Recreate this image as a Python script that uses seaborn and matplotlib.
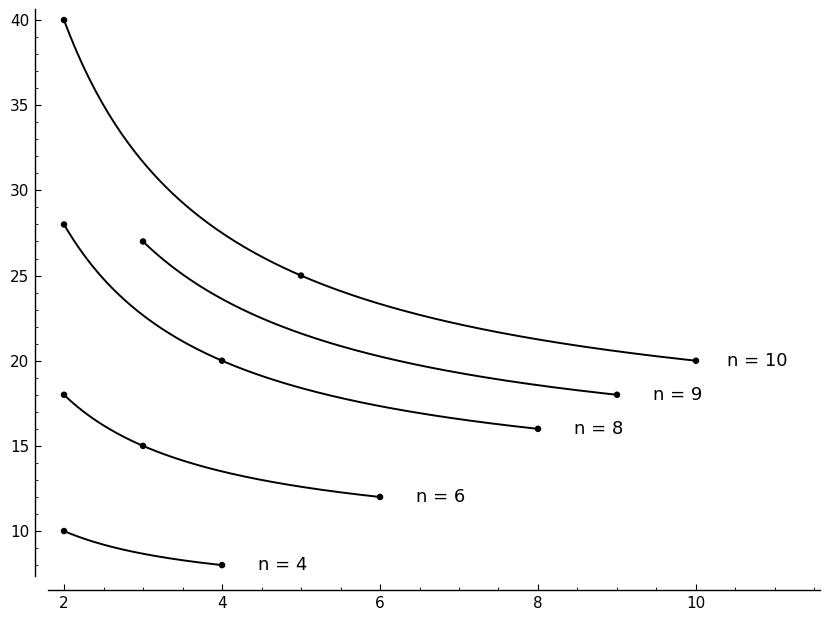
import numpy as np
import pandas as pd
import matplotlib
matplotlib.use("Agg")
import matplotlib.pyplot as plt
import seaborn as sns
from matplotlib.ticker import MultipleLocator

# ---- data ----
n_values = [4, 6, 8, 9, 10]
x_n4 = [2, 4];        y_n4 = [10, 8]
x_n6 = [2, 3, 6];     y_n6 = [18, 15, 12]
x_n8 = [2, 4, 8];     y_n8 = [28, 20, 16]
x_n9 = [3, 9];        y_n9 = [27, 18]
x_n10 = [2, 5, 10];   y_n10 = [40, 25, 20]
labels = ["n = 4", "n = 6", "n = 8", "n = 9", "n = 10"]

series_x = [x_n4, x_n6, x_n8, x_n9, x_n10]
series_y = [y_n4, y_n6, y_n8, y_n9, y_n10]

sns.set_style("white")
plt.rcParams['font.family'] = ['DejaVu Sans']
plt.rcParams['text.color'] = 'black'

fig = plt.figure(figsize=(8.3, 6.19), dpi=100)
ax = fig.add_axes([48/830, 43/619, 772/830, 567/619])

pts_rows = []
curve_rows = []
for n, xs, ys, lab in zip(n_values, series_x, series_y, labels):
    # hyperbola y = a + b/x through the marked endpoints
    x1, x2 = xs[0], xs[-1]
    y1, y2 = ys[0], ys[-1]
    b = (y1 - y2) / (1.0 / x1 - 1.0 / x2)
    a = y1 - b / x1
    xx = np.linspace(x1, x2, 200)
    for xv in xx:
        curve_rows.append({"x": xv, "y": a + b / xv, "n": lab})
    for xv, yv in zip(xs, ys):
        pts_rows.append({"x": xv, "y": yv, "n": lab})
    ax.text(x2 + 0.77, y2, lab, ha="center", va="center", fontsize=13,
            color="black")

curves = pd.DataFrame(curve_rows)
pts = pd.DataFrame(pts_rows)

sns.lineplot(data=curves, x="x", y="y", units="n", estimator=None,
             color="black", linewidth=1.4, sort=False, ax=ax, legend=False)
sns.scatterplot(data=pts, x="x", y="y", color="black", s=22,
                edgecolor="none", ax=ax, legend=False, zorder=5)

ax.set_xlim(1.797, 11.57)
ax.set_ylim(7.36, 40.65)
ax.set_xlabel("")
ax.set_ylabel("")

ax.xaxis.set_major_locator(MultipleLocator(2))
ax.xaxis.set_minor_locator(MultipleLocator(0.5))
ax.yaxis.set_major_locator(MultipleLocator(5))
ax.yaxis.set_minor_locator(MultipleLocator(1))

for side in ["top", "right"]:
    ax.spines[side].set_visible(False)
ax.spines["left"].set_position(("outward", 9.4))
ax.spines["bottom"].set_position(("outward", 10.1))
for side in ["left", "bottom"]:
    ax.spines[side].set_color("black")
    ax.spines[side].set_linewidth(1.0)

ax.tick_params(which="major", direction="in", length=4, width=0.8,
               labelsize=11, pad=4, colors="black", left=True, bottom=True)
ax.tick_params(which="minor", direction="in", length=2.2, width=0.6,
               colors="black", left=True, bottom=True)

fig.savefig("out.png", dpi=100)
